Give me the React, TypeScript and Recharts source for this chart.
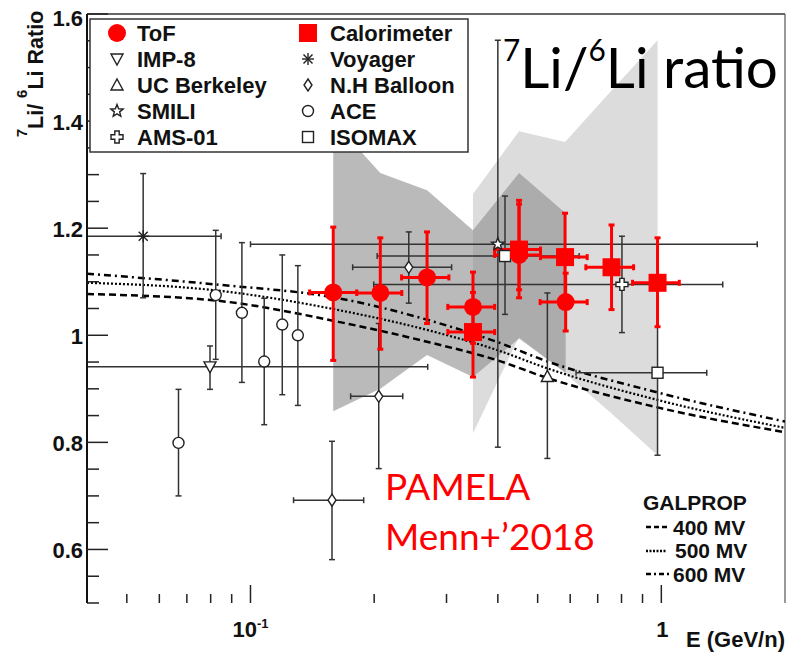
import React from 'react';
import {
  ComposedChart, Area, Line, Scatter, XAxis, YAxis, ErrorBar, ReferenceLine,
} from 'recharts';

const W = 787;
const H = 658;
const BOLD = '"Liberation Sans", Arial, sans-serif';
const RED = '#ff0000';
const INK = '#222';

// each row: [E, E low, E high, ratio, ratio low, ratio high]  (E in GeV/n)
type Row = [number, number, number, number, number, number];

const TOF: Row[] = [
  [0.159, 0.1393, 0.1814, 1.080, 0.953, 1.202],
  [0.207, 0.1814, 0.2335, 1.079, 0.974, 1.182],
  [0.269, 0.2332, 0.304, 1.108, 1.022, 1.193],
  [0.348, 0.3022, 0.3929, 1.053, 0.985, 1.118],
  [0.4505, 0.3929, 0.508, 1.150, 1.070, 1.252],
  [0.585, 0.507, 0.660, 1.062, 1.008, 1.116],
];
const CALORIMETER: Row[] = [
  [0.348, 0.3022, 0.3929, 1.006, 0.922, 1.080],
  [0.4505, 0.3929, 0.508, 1.160, 1.085, 1.245],
  [0.583, 0.508, 0.660, 1.146, 1.065, 1.228],
  [0.7565, 0.655, 0.856, 1.127, 1.048, 1.206],
  [0.979, 0.851, 1.106, 1.098, 1.016, 1.182],
];
const IMP8: Row[] = [[0.0797, 0.04, 0.270, 0.941, 0.899, 0.980]];
const VOYAGER: Row[] = [[0.0548, 0.04, 0.0848, 1.185, 1.070, 1.302]];
const UC_BERKELEY: Row[] = [[0.528, 0.528, 0.528, 0.923, 0.770, 1.079]];
const SMILI: Row[] = [[0.400, 0.100, 1.712, 1.170, 0.791, 1.551]];
const NH_BALLOON: Row[] = [
  [0.2428, 0.1773, 0.3087, 1.127, 1.060, 1.193],
  [0.2052, 0.1753, 0.2348, 0.886, 0.751, 1.022],
  [0.1579, 0.1273, 0.1886, 0.692, 0.581, 0.802],
];
const ACE: Row[] = [
  [0.0668, 0.0668, 0.0668, 0.799, 0.700, 0.899],
  [0.0823, 0.0823, 0.0823, 1.075, 0.955, 1.196],
  [0.0953, 0.0953, 0.0953, 1.042, 0.912, 1.173],
  [0.108, 0.108, 0.108, 0.951, 0.833, 1.069],
  [0.1195, 0.1195, 0.1195, 1.020, 0.889, 1.150],
  [0.1304, 0.1304, 0.1304, 1.000, 0.869, 1.130],
];
const AMS01: Row[] = [[0.802, 0.1995, 1.411, 1.095, 1.005, 1.185]];
const ISOMAX: Row[] = [
  [0.4164, 0.2034, 0.631, 1.148, 1.039, 1.260],
  [0.979, 0.62, 1.29, 0.930, 0.776, 1.084],
];

// systematic bands
const TOF_BAND_E = [0.159, 0.207, 0.269, 0.348, 0.4505, 0.585];
const TOF_BAND_LO = [0.858, 0.900, 0.963, 0.922, 0.994, 0.930];
const TOF_BAND_HI = [1.400, 1.303, 1.271, 1.196, 1.303, 1.228];
const CAL_BAND_E = [0.348, 0.4505, 0.583, 0.7565, 0.979];
const CAL_BAND_LO = [0.817, 0.997, 0.929, 0.854, 0.776];
const CAL_BAND_HI = [1.264, 1.381, 1.361, 1.457, 1.551];

// GALPROP predictions for three modulation potentials
const GALPROP_E = [0.04, 0.082, 0.164, 0.272, 0.4, 0.52, 0.97, 2];
const GALPROP_400 = [1.077, 1.065, 1.025, 0.987, 0.953, 0.922, 0.866, 0.819];
const GALPROP_500 = [1.098, 1.084, 1.047, 1.009, 0.972, 0.940, 0.880, 0.827];
const GALPROP_600 = [1.115, 1.095, 1.069, 1.028, 0.987, 0.953, 0.894, 0.839];

const X_TICKS = [0.05, 0.06, 0.07, 0.08, 0.09, 0.1, 0.2, 0.3, 0.4, 0.5, 0.6, 0.7, 0.8, 0.9, 1];
const Y_TICKS = [
  0.5, 0.55, 0.6, 0.65, 0.7, 0.75, 0.8, 0.85, 0.9, 0.95, 1, 1.05,
  1.1, 1.15, 1.2, 1.25, 1.3, 1.35, 1.4, 1.45, 1.5, 1.55, 1.6,
];
const Y_LABELS: Record<string, string> = {
  '0.6': '0.6', '0.8': '0.8', '1': '1', '1.2': '1.2', '1.4': '1.4', '1.6': '1.6',
};

const toPoints = (rows: Row[]) =>
  rows.map(([e, eLo, eHi, r, rLo, rHi]) => ({ e, r, ex: [e - eLo, eHi - e], ey: [r - rLo, rHi - r] }));
const toBand = (es: number[], lo: number[], hi: number[]) =>
  es.map((e, i) => ({ e, band: [lo[i], hi[i]] }));
const toCurve = (es: number[], vs: number[]) => es.map((e, i) => ({ e, v: vs[i] }));

type Kind = 'tof' | 'calo' | 'imp8' | 'voyager' | 'ucb' | 'nh' | 'smili' | 'ace' | 'ams' | 'isomax';

function starPath(cx: number, cy: number, ro: number, ri: number) {
  let d = '';
  for (let i = 0; i < 10; i++) {
    const a = -Math.PI / 2 + (i * Math.PI) / 5;
    const rr = i % 2 === 0 ? ro : ri;
    d += `${i === 0 ? 'M' : 'L'}${cx + rr * Math.cos(a)},${cy + rr * Math.sin(a)}`;
  }
  return d + 'Z';
}

function Marker({ kind, cx, cy }: { kind: Kind; cx: number; cy: number }) {
  const s = { fill: '#fff', stroke: INK, strokeWidth: 1.4 };
  switch (kind) {
    case 'tof':
      return <circle cx={cx} cy={cy} r={9} fill={RED} />;
    case 'calo':
      return <rect x={cx - 9} y={cy - 9} width={18} height={18} fill={RED} />;
    case 'imp8':
      return <path d={`M${cx - 6},${cy - 5}L${cx + 6},${cy - 5}L${cx},${cy + 6}Z`} {...s} />;
    case 'ucb':
      return <path d={`M${cx - 6},${cy + 5}L${cx + 6},${cy + 5}L${cx},${cy - 6}Z`} {...s} />;
    case 'voyager':
      return (
        <g stroke={INK} strokeWidth={1.4}>
          <line x1={cx - 6} y1={cy} x2={cx + 6} y2={cy} />
          <line x1={cx} y1={cy - 6} x2={cx} y2={cy + 6} />
          <line x1={cx - 4.5} y1={cy - 4.5} x2={cx + 4.5} y2={cy + 4.5} />
          <line x1={cx - 4.5} y1={cy + 4.5} x2={cx + 4.5} y2={cy - 4.5} />
        </g>
      );
    case 'nh':
      return <path d={`M${cx},${cy - 6}L${cx + 4},${cy}L${cx},${cy + 6}L${cx - 4},${cy}Z`} {...s} />;
    case 'smili':
      return <path d={starPath(cx, cy, 6.5, 2.8)} {...s} />;
    case 'ace':
      return <circle cx={cx} cy={cy} r={5.5} {...s} />;
    case 'ams': {
      const a = 2.2;
      const l = 6;
      const pts = [
        [-a, -l], [a, -l], [a, -a], [l, -a], [l, a], [a, a],
        [a, l], [-a, l], [-a, a], [-l, a], [-l, -a], [-a, -a],
      ];
      return <path d={pts.map(([x, y], i) => `${i ? 'L' : 'M'}${cx + x},${cy + y}`).join('') + 'Z'} {...s} />;
    }
    case 'isomax':
      return <rect x={cx - 5.5} y={cy - 5.5} width={11} height={11} {...s} />;
  }
  return null;
}

const shapeOf = (kind: Kind) => (p: any) => <Marker kind={kind} cx={p.cx} cy={p.cy} />;

function XTick(props: any) {
  const { x, y, payload } = props;
  const v = payload.value;
  const major = v === 0.1 || v === 1;
  return (
    <g>
      <line x1={x} x2={x} y1={y} y2={y - (major ? 18 : 9)} stroke={INK} strokeWidth={1.5} />
      {v === 0.1 && (
        <text x={x} y={y + 34} textAnchor="middle" fontFamily={BOLD} fontWeight="bold" fontSize={22} fill="#111">
          10<tspan dy={-9} fontSize={13}>-1</tspan>
        </text>
      )}
      {v === 1 && (
        <text x={x + 1} y={y + 34} textAnchor="middle" fontFamily={BOLD} fontWeight="bold" fontSize={22} fill="#111">
          1
        </text>
      )}
    </g>
  );
}

function YTick(props: any) {
  const { x, y, payload } = props;
  const label = Y_LABELS[String(payload.value)];
  return (
    <g>
      <line x1={x} x2={x + (label ? 21 : 12)} y1={y} y2={y} stroke={INK} strokeWidth={1.5} />
      {label && (
        <text x={x - 4} y={y + (payload.value === 1.6 ? 12 : 9)} textAnchor="end"
          fontFamily={BOLD} fontWeight="bold" fontSize={22} fill="#111">
          {label}
        </text>
      )}
    </g>
  );
}

const LEGEND_LEFT: [Kind, string][] = [
  ['tof', 'ToF'], ['imp8', 'IMP-8'], ['ucb', 'UC Berkeley'], ['smili', 'SMILI'], ['ams', 'AMS-01'],
];
const LEGEND_RIGHT: [Kind, string][] = [
  ['calo', 'Calorimeter'], ['voyager', 'Voyager'], ['nh', 'N.H Balloon'], ['ace', 'ACE'], ['isomax', 'ISOMAX'],
];
const ROW_Y = [33, 59, 85, 111, 137];

function Overlay() {
  const txt = { fontFamily: BOLD, fontWeight: 'bold' as const, fill: '#111' };
  return (
    <svg width={W} height={H} style={{ position: 'absolute', left: 0, top: 0, pointerEvents: 'none' }}>
      {/* experiment legend */}
      <rect x={90} y={19} width={378} height={133} fill="#fff" stroke="#333" strokeWidth={1.5} />
      {LEGEND_LEFT.map(([k, name], i) => (
        <g key={name}>
          <Marker kind={k} cx={117} cy={ROW_Y[i]} />
          <text x={137} y={ROW_Y[i] + 8} fontSize={22} {...txt}>{name}</text>
        </g>
      ))}
      {LEGEND_RIGHT.map(([k, name], i) => (
        <g key={name}>
          <Marker kind={k} cx={308} cy={ROW_Y[i]} />
          <text x={330} y={ROW_Y[i] + 8} fontSize={22} {...txt}>{name}</text>
        </g>
      ))}

      {/* axis titles */}
      <text transform="translate(43,74) rotate(-90)" textAnchor="middle" fontSize={21.5} {...txt}>
        <tspan fontSize={15} dy={-16}>7</tspan>
        <tspan dy={16}>Li/ </tspan>
        <tspan fontSize={15} dy={-16}>6</tspan>
        <tspan dy={16}>Li Ratio</tspan>
      </text>
      <text x={785} y={647} textAnchor="end" fontSize={22} {...txt}>E (GeV/n)</text>

      {/* model legend */}
      <text x={643} y={510} fontSize={21} {...txt}>GALPROP</text>
      <line x1={646} x2={670} y1={527} y2={527} stroke="#000" strokeWidth={2.5} strokeDasharray="5 3" />
      <text x={673} y={535} fontSize={21} {...txt}>400 MV</text>
      <line x1={646} x2={666} y1={551} y2={551} stroke="#000" strokeWidth={2.5} strokeDasharray="2 1.5" />
      <text x={675} y={558} fontSize={21} {...txt}>500 MV</text>
      <line x1={646} x2={670} y1={574} y2={574} stroke="#000" strokeWidth={2.5} strokeDasharray="5 3 2 3" />
      <text x={673} y={582} fontSize={21} {...txt}>600 MV</text>

      {/* slide annotations */}
      <text x={503} y={88} fontFamily="Lato, sans-serif" fontSize={57} fill="#000"
        textLength={275} lengthAdjust="spacingAndGlyphs">
        <tspan fontSize={30} dy={-27}>7</tspan>
        <tspan dy={27}>Li/</tspan>
        <tspan fontSize={30} dy={-27}>6</tspan>
        <tspan dy={27}>Li ratio</tspan>
      </text>
      <text x={385} y={500} fontFamily="Lato, sans-serif" fontSize={37} fill={RED}>PAMELA</text>
      <text x={385} y={550} fontFamily="Lato, sans-serif" fontSize={37} fill={RED}>Menn+’2018</text>
    </svg>
  );
}

export default function App() {
  const blackBar = { stroke: '#333', strokeWidth: 1.5, width: 3 };
  const redBar = { stroke: RED, strokeWidth: 3, width: 3 };
  const black: [Row[], Kind, boolean][] = [
    [IMP8, 'imp8', true],
    [VOYAGER, 'voyager', true],
    [UC_BERKELEY, 'ucb', false],
    [SMILI, 'smili', true],
    [NH_BALLOON, 'nh', true],
    [ACE, 'ace', false],
    [AMS01, 'ams', true],
    [ISOMAX, 'isomax', true],
  ];
  return (
    <div style={{ position: 'absolute', left: 0, top: 0, width: W, height: H, background: '#fff' }}>
      <ComposedChart width={W} height={H} margin={{ top: 14, right: 2, bottom: 54, left: 86 }}>
        <XAxis
          dataKey="e" type="number" scale="log" domain={[0.04, 2]} allowDataOverflow
          ticks={X_TICKS} interval={0} height={1} tickSize={0} tickMargin={0}
          axisLine={false} tickLine={false} tick={<XTick />}
        />
        <YAxis
          type="number" domain={[0.5, 1.6]} allowDataOverflow
          ticks={Y_TICKS} interval={0} width={1} tickSize={0} tickMargin={0}
          axisLine={{ stroke: '#111', strokeWidth: 2 }} tickLine={false} tick={<YTick />}
        />
        <ReferenceLine y={1.6} stroke="#333" strokeWidth={1.5} ifOverflow="visible" />
        <ReferenceLine x={2} stroke="#555" strokeWidth={1.2} ifOverflow="visible" />

        <Area data={toBand(CAL_BAND_E, CAL_BAND_LO, CAL_BAND_HI)} dataKey="band" type="linear"
          stroke="none" fill="#c4c4c4" fillOpacity={0.6} isAnimationActive={false} />
        <Area data={toBand(TOF_BAND_E, TOF_BAND_LO, TOF_BAND_HI)} dataKey="band" type="linear"
          stroke="none" fill="#8c8c8c" fillOpacity={0.6} isAnimationActive={false} />

        <Line data={toCurve(GALPROP_E, GALPROP_400)} dataKey="v" type="monotone" dot={false}
          stroke="#000" strokeWidth={2.5} strokeDasharray="7 4" isAnimationActive={false} />
        <Line data={toCurve(GALPROP_E, GALPROP_500)} dataKey="v" type="monotone" dot={false}
          stroke="#000" strokeWidth={2.2} strokeDasharray="2 2" isAnimationActive={false} />
        <Line data={toCurve(GALPROP_E, GALPROP_600)} dataKey="v" type="monotone" dot={false}
          stroke="#000" strokeWidth={2.5} strokeDasharray="7 4 2 4" isAnimationActive={false} />

        {black.map(([rows, kind, hasX]) => (
          <Scatter key={kind} data={toPoints(rows)} dataKey="r" shape={shapeOf(kind)} isAnimationActive={false}>
            <ErrorBar dataKey="ey" direction="y" {...blackBar} />
            {hasX && <ErrorBar dataKey="ex" direction="x" {...blackBar} />}
          </Scatter>
        ))}

        <Scatter data={toPoints(TOF)} dataKey="r" shape={shapeOf('tof')} isAnimationActive={false}>
          <ErrorBar dataKey="ey" direction="y" {...redBar} />
          <ErrorBar dataKey="ex" direction="x" {...redBar} />
        </Scatter>
        <Scatter data={toPoints(CALORIMETER)} dataKey="r" shape={shapeOf('calo')} isAnimationActive={false}>
          <ErrorBar dataKey="ey" direction="y" {...redBar} />
          <ErrorBar dataKey="ex" direction="x" {...redBar} />
        </Scatter>
      </ComposedChart>
      <Overlay />
    </div>
  );
}
